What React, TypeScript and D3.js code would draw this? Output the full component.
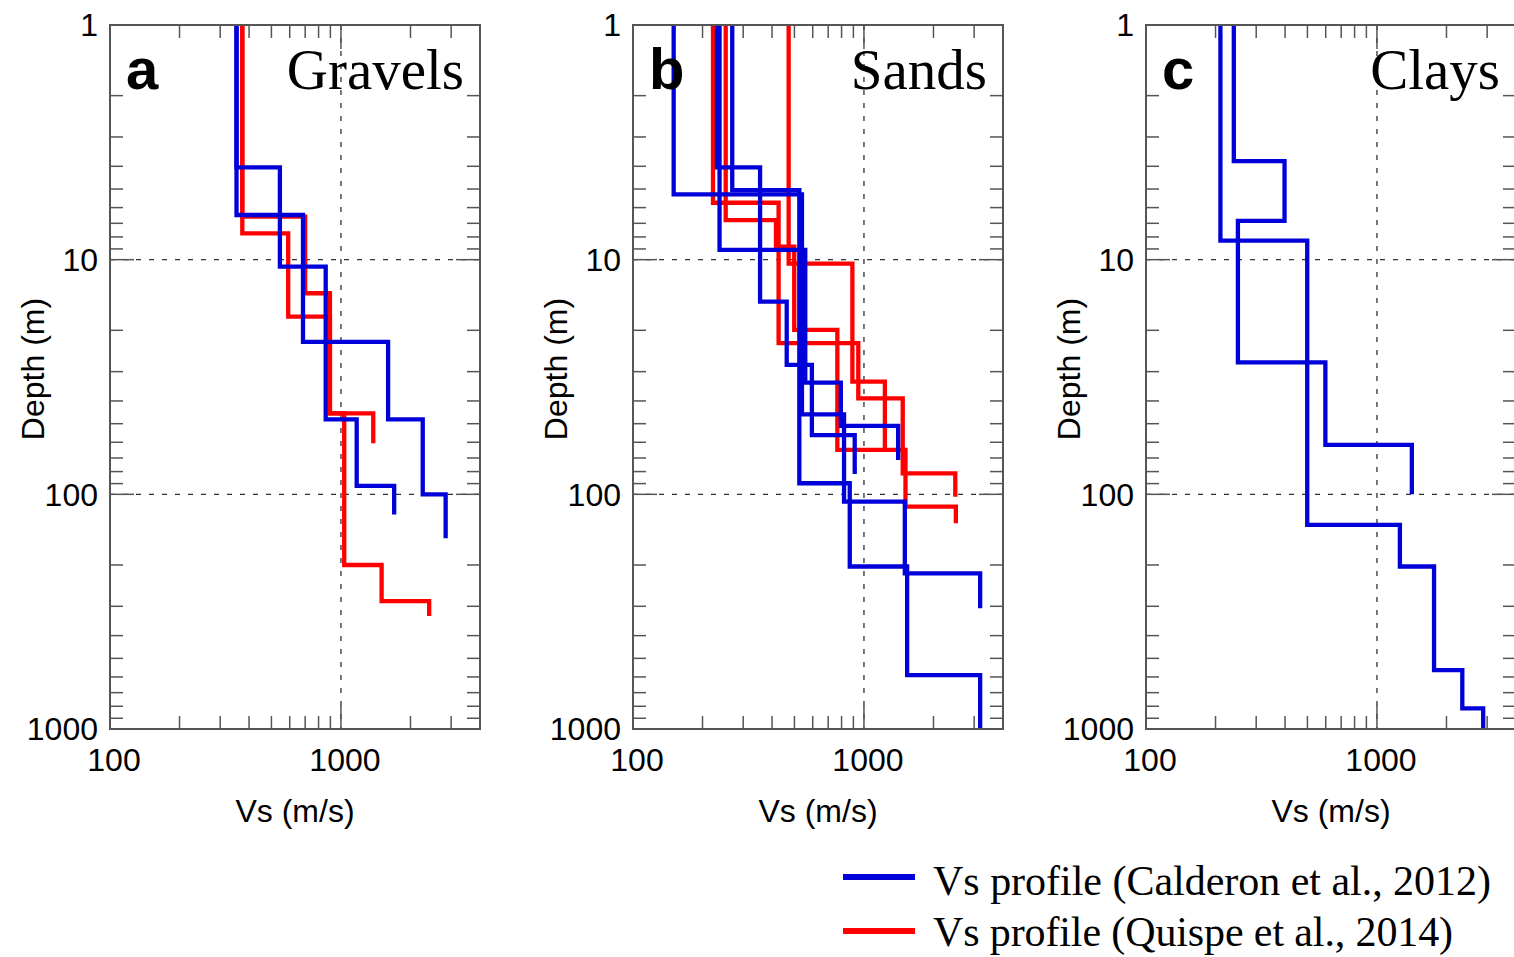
import React from "react";
import * as d3 from "d3";

// ---- Data (Vs in m/s, layer-bottom depths in m) ----
// Panel a: Gravels
const gravelsBlue1V = [353, 544, 859, 1170, 1700];
const gravelsBlue1D = [4.04, 10.7, 47.9, 92.1, 122];
const gravelsBlue2V = [353, 685, 1600, 2260, 2840];
const gravelsBlue2D = [6.45, 22.4, 47.9, 100, 154];
const gravelsRed1V = [374, 700, 896, 1380];
const gravelsRed1D = [6.56, 13.9, 45.2, 60.6];
const gravelsRed2V = [374, 591, 896, 1033, 1500, 2410];
const gravelsRed2D = [7.72, 17.5, 45.2, 200, 285, 330];

// Panel b: Sands
const sandsBlue1V = [150, 539, 820, 1503, 3185];
const sandsBlue1D = [5.27, 45.6, 107.5, 217, 306];
const sandsBlue2V = [231, 355, 463, 595, 912];
const sandsBlue2D = [4.04, 15.1, 28.1, 55.9, 81.9];
const sandsBlue3V = [237, 557, 794, 1406];
const sandsBlue3D = [9.09, 33.4, 51.1, 71.4];
const sandsBlue4V = [269, 525, 868, 1538, 3185];
const sandsBlue4D = [5.05, 89.7, 203, 589, 1000];
const sandsRed1V = [222, 427, 945, 1472, 2486];
const sandsRed1D = [5.72, 22.7, 39.0, 81.4, 102.4];
const sandsRed2V = [252, 416, 499, 767, 1513, 2500];
const sandsRed2D = [6.78, 8.8, 19.9, 64.7, 112.9, 132.9];
const sandsRed3V = [472, 891, 1232];
const sandsRed3D = [10.4, 33.1, 64.7];

// Panel c: Clays
const claysBlue1V = [210, 499, 1257, 1767, 2342, 2884];
const claysBlue1D = [8.3, 135, 203, 561, 817, 1000];
const claysBlue2V = [240, 398, 250, 598, 1416];
const claysBlue2D = [3.8, 6.84, 27.4, 61.6, 100];

// Axes
const xDomain = [100, 4000];
const yDomain = [1, 1000];
const xMajorTicks = [100, 1000];
const xMinorTicks = [200, 300, 400, 500, 600, 700, 800, 900, 2000, 3000];
const yMajorTicks = [1, 10, 100, 1000];
const yMinorTicks = [2, 3, 4, 5, 6, 7, 8, 9, 20, 30, 40, 50, 60, 70, 80, 90, 200, 300, 400, 500, 600, 700, 800, 900];
const xGridValues = [1000];
const yGridValues = [10, 100];

const panelLetters = ["a", "b", "c"];
const panelTitles = ["Gravels", "Sands", "Clays"];
const xLabel = "Vs (m/s)";
const yLabel = "Depth (m)";
const legendLabels = [
  "Vs profile (Calderon et al., 2012)",
  "Vs profile (Quispe et al., 2014)",
];

const BLUE = "#0000d8";
const RED = "#ff0000";

type Profile = { v: number[]; d: number[]; color: string };

const panelProfiles: Profile[][] = [
  [
    { v: gravelsRed1V, d: gravelsRed1D, color: RED },
    { v: gravelsRed2V, d: gravelsRed2D, color: RED },
    { v: gravelsBlue1V, d: gravelsBlue1D, color: BLUE },
    { v: gravelsBlue2V, d: gravelsBlue2D, color: BLUE },
  ],
  [
    { v: sandsRed1V, d: sandsRed1D, color: RED },
    { v: sandsRed2V, d: sandsRed2D, color: RED },
    { v: sandsRed3V, d: sandsRed3D, color: RED },
    { v: sandsBlue1V, d: sandsBlue1D, color: BLUE },
    { v: sandsBlue2V, d: sandsBlue2D, color: BLUE },
    { v: sandsBlue3V, d: sandsBlue3D, color: BLUE },
    { v: sandsBlue4V, d: sandsBlue4D, color: BLUE },
  ],
  [
    { v: claysBlue1V, d: claysBlue1D, color: BLUE },
    { v: claysBlue2V, d: claysBlue2D, color: BLUE },
  ],
];

const panelLefts = [110, 633, 1146];
const PANEL_W = 370;
const TOP = 25;
const BOTTOM = 729;

function stepPoints(v: number[], d: number[]): [number, number][] {
  const pts: [number, number][] = [[v[0], 1]];
  for (let i = 0; i < v.length; i++) {
    pts.push([v[i], d[i]]);
    if (i + 1 < v.length) pts.push([v[i + 1], d[i]]);
  }
  return pts;
}

const SANS = "Liberation Sans, Arial, sans-serif";
const SERIF = "Liberation Serif, Times New Roman, serif";

function Panel({ idx }: { idx: number }) {
  const left = panelLefts[idx];
  const right = left + PANEL_W;
  const x = d3.scaleLog().domain(xDomain).range([left, right]);
  const y = d3.scaleLog().domain(yDomain).range([TOP, BOTTOM]);
  const line = d3
    .line<[number, number]>()
    .x((p) => x(p[0]))
    .y((p) => y(p[1]));
  const tickC = "#555";
  const minorLen = 13;
  const majorLen = 24;
  return (
    <g>
      {/* grid */}
      {xGridValues.map((g) => (
        <line key={"gx" + g} x1={x(g)} x2={x(g)} y1={TOP} y2={BOTTOM} stroke="#333" strokeWidth={1.3} strokeDasharray="5,8" />
      ))}
      {yGridValues.map((g) => (
        <line key={"gy" + g} x1={left} x2={right} y1={y(g)} y2={y(g)} stroke="#333" strokeWidth={1.3} strokeDasharray="5,8" />
      ))}
      {/* minor ticks */}
      {xMinorTicks.map((t) => (
        <g key={"xm" + t}>
          <line x1={x(t)} x2={x(t)} y1={BOTTOM} y2={BOTTOM - minorLen} stroke={tickC} strokeWidth={1.5} />
          <line x1={x(t)} x2={x(t)} y1={TOP} y2={TOP + minorLen} stroke={tickC} strokeWidth={1.5} />
        </g>
      ))}
      {yMinorTicks.map((t) => (
        <g key={"ym" + t}>
          <line x1={left} x2={left + minorLen} y1={y(t)} y2={y(t)} stroke={tickC} strokeWidth={1.5} />
          <line x1={right} x2={right - minorLen} y1={y(t)} y2={y(t)} stroke={tickC} strokeWidth={1.5} />
        </g>
      ))}
      {xMajorTicks.map((t) => (
        <g key={"xM" + t}>
          <line x1={x(t)} x2={x(t)} y1={BOTTOM} y2={BOTTOM - majorLen} stroke={tickC} strokeWidth={1.5} />
          <line x1={x(t)} x2={x(t)} y1={TOP} y2={TOP + majorLen} stroke={tickC} strokeWidth={1.5} />
        </g>
      ))}
      {yMajorTicks.map((t) => (
        <g key={"yM" + t}>
          <line x1={left} x2={left + majorLen} y1={y(t)} y2={y(t)} stroke={tickC} strokeWidth={1.5} />
          <line x1={right} x2={right - majorLen} y1={y(t)} y2={y(t)} stroke={tickC} strokeWidth={1.5} />
        </g>
      ))}
      {/* profiles */}
      {panelProfiles[idx].map((p, i) => (
        <path key={"p" + i} d={line(stepPoints(p.v, p.d)) || ""} fill="none" stroke={p.color} strokeWidth={4.3} strokeLinejoin="miter" strokeLinecap="butt" />
      ))}
      {/* frame */}
      <rect x={left} y={TOP} width={PANEL_W} height={BOTTOM - TOP} fill="none" stroke="#555" strokeWidth={2} />
      {/* tick labels */}
      {yMajorTicks.map((t) => (
        <text key={"yl" + t} x={left - 12} y={y(t)} dy="0.35em" textAnchor="end" fontFamily={SANS} fontSize={32} fill="#000">
          {String(t)}
        </text>
      ))}
      {xMajorTicks.map((t) => (
        <text key={"xl" + t} x={x(t) + 4} y={771} textAnchor="middle" fontFamily={SANS} fontSize={32} fill="#000">
          {String(t)}
        </text>
      ))}
      {/* axis labels */}
      <text x={(left + right) / 2} y={822} textAnchor="middle" fontFamily={SANS} fontSize={32} fill="#000">
        {xLabel}
      </text>
      <text transform={`translate(${left - 66},369) rotate(-90)`} textAnchor="middle" fontFamily={SANS} fontSize={32} fill="#000">
        {yLabel}
      </text>
      {/* panel letter and title */}
      <text x={left + 16} y={89} fontFamily={SANS} fontWeight="bold" fontSize={58} fill="#000">
        {panelLetters[idx]}
      </text>
      <text x={right - 16} y={89} textAnchor="end" fontFamily={SERIF} fontSize={57} fill="#000">
        {panelTitles[idx]}
      </text>
    </g>
  );
}

export default function App() {
  const legendColors = [BLUE, RED];
  const legendYs = [877, 931];
  const legendBaselines = [895, 946];
  const legendLengths = [558, 520];
  return (
    <div style={{ position: "absolute", left: 0, top: 0 }}>
      <svg width={1514} height={957} viewBox="0 0 1514 957" style={{ display: "block", background: "#fff" }}>
        <rect x={0} y={0} width={1514} height={957} fill="#fff" />
        {panelLefts.map((_, i) => (
          <Panel key={i} idx={i} />
        ))}
        {legendLabels.map((lab, i) => (
          <g key={"lg" + i}>
            <line x1={843} x2={915} y1={legendYs[i]} y2={legendYs[i]} stroke={legendColors[i]} strokeWidth={6} />
            <text x={933} y={legendBaselines[i]} fontFamily={SERIF} fontSize={42} fill="#000" textLength={legendLengths[i]} lengthAdjust="spacing">
              {lab}
            </text>
          </g>
        ))}
      </svg>
    </div>
  );
}
